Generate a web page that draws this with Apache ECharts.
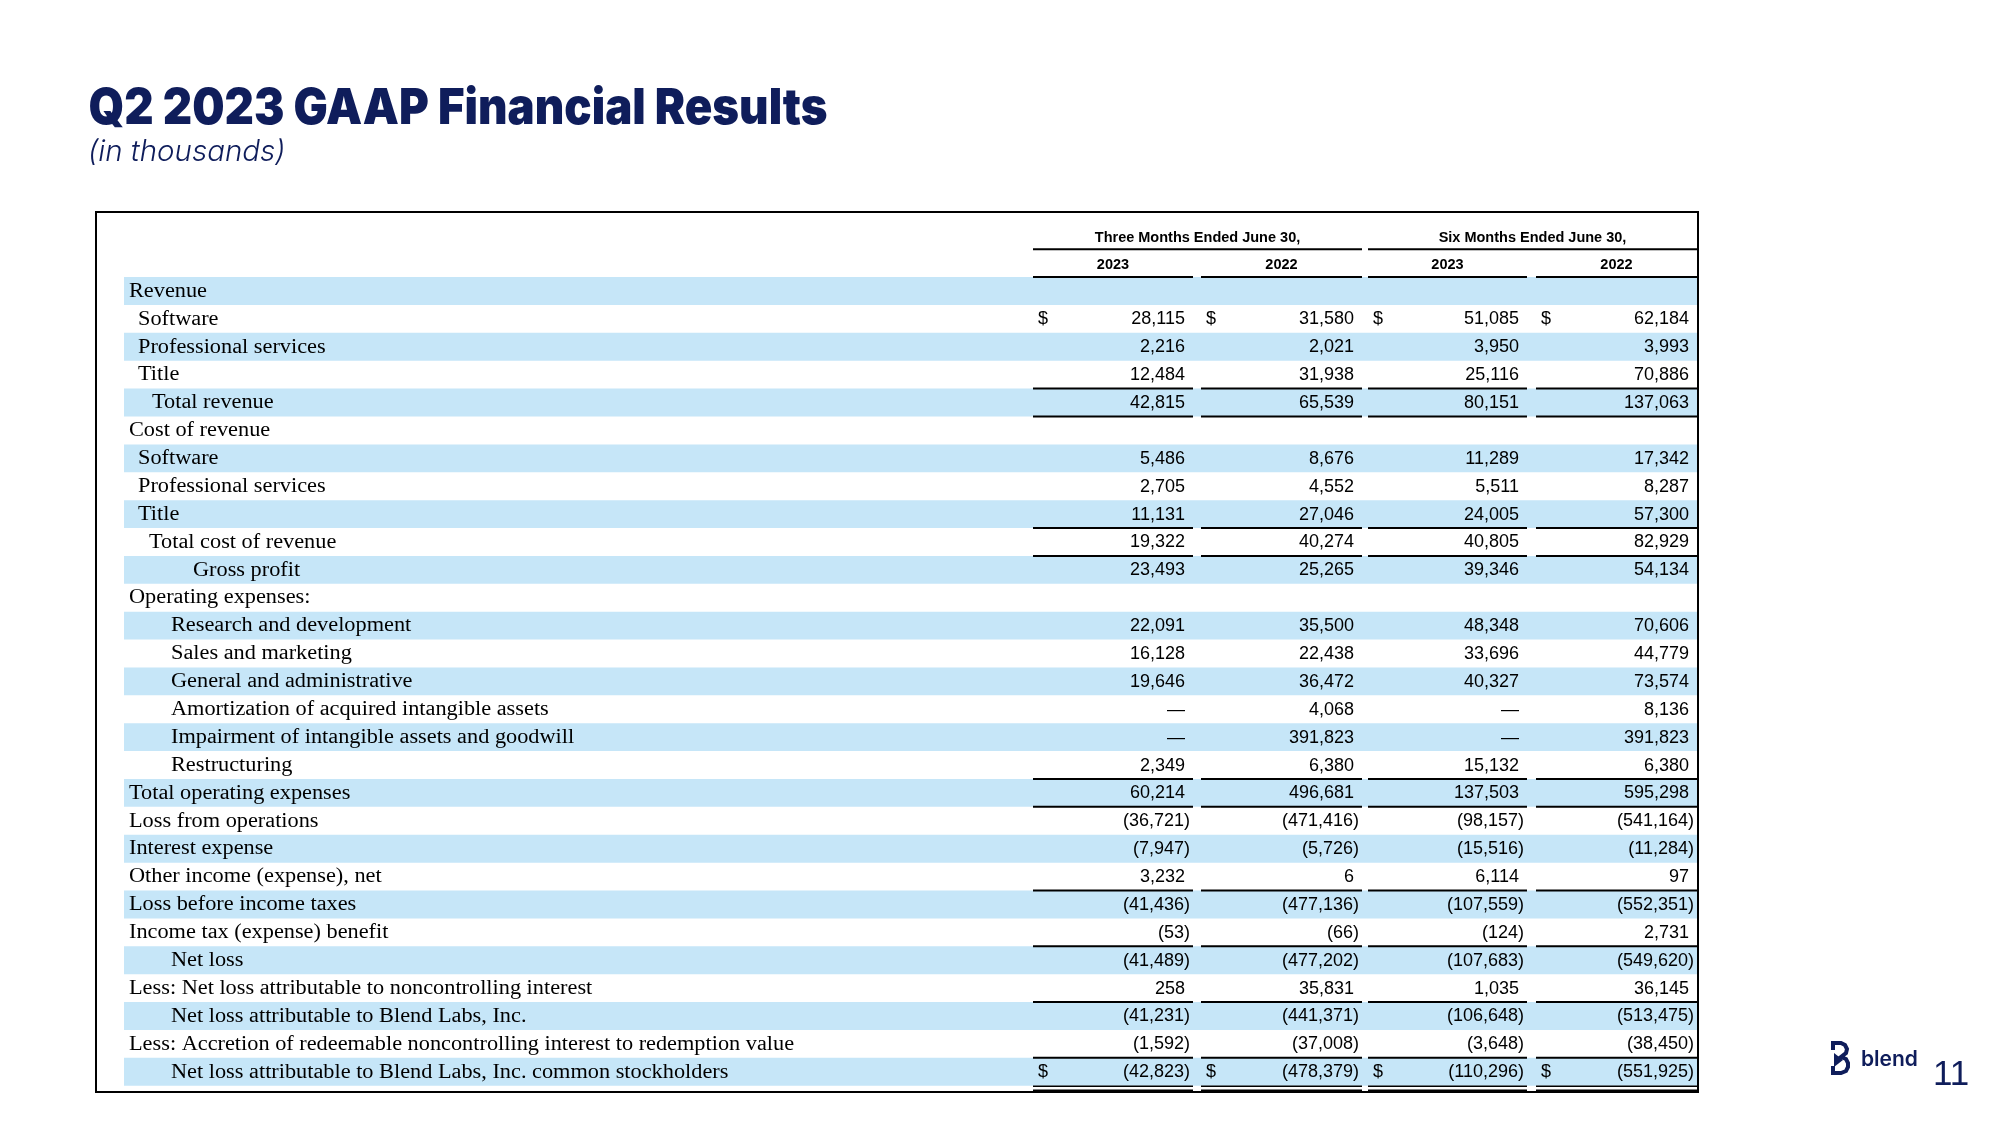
<!DOCTYPE html>
<html><head><meta charset="utf-8">
<script src="https://cdn.jsdelivr.net/npm/echarts@6/dist/echarts.min.js"></script>
<style>html,body{margin:0;padding:0;background:#fff}#c{width:2000px;height:1125px}</style>
</head><body><div id="c"></div>
<script>
// ---------------- DATA ----------------
const periodHeaders = ['Three Months Ended June 30,', 'Six Months Ended June 30,'];
const yearHeaders = ['2023', '2022', '2023', '2022'];
const rowLabels = [
  'Revenue', 'Software', 'Professional services', 'Title', 'Total revenue',
  'Cost of revenue', 'Software', 'Professional services', 'Title', 'Total cost of revenue',
  'Gross profit', 'Operating expenses:', 'Research and development', 'Sales and marketing',
  'General and administrative', 'Amortization of acquired intangible assets',
  'Impairment of intangible assets and goodwill', 'Restructuring', 'Total operating expenses',
  'Loss from operations', 'Interest expense', 'Other income (expense), net',
  'Loss before income taxes', 'Income tax (expense) benefit', 'Net loss',
  'Less: Net loss attributable to noncontrolling interest',
  'Net loss attributable to Blend Labs, Inc.',
  'Less: Accretion of redeemable noncontrolling interest to redemption value',
  'Net loss attributable to Blend Labs, Inc. common stockholders'
];
// null = section heading (no value), 0 = shown as dash
const threeMonths2023 = [null, 28115, 2216, 12484, 42815, null, 5486, 2705, 11131, 19322, 23493, null,
  22091, 16128, 19646, 0, 0, 2349, 60214, -36721, -7947, 3232, -41436, -53, -41489, 258, -41231, -1592, -42823];
const threeMonths2022 = [null, 31580, 2021, 31938, 65539, null, 8676, 4552, 27046, 40274, 25265, null,
  35500, 22438, 36472, 4068, 391823, 6380, 496681, -471416, -5726, 6, -477136, -66, -477202, 35831, -441371, -37008, -478379];
const sixMonths2023 = [null, 51085, 3950, 25116, 80151, null, 11289, 5511, 24005, 40805, 39346, null,
  48348, 33696, 40327, 0, 0, 15132, 137503, -98157, -15516, 6114, -107559, -124, -107683, 1035, -106648, -3648, -110296];
const sixMonths2022 = [null, 62184, 3993, 70886, 137063, null, 17342, 8287, 57300, 82929, 54134, null,
  70606, 44779, 73574, 8136, 391823, 6380, 595298, -541164, -11284, 97, -552351, 2731, -549620, 36145, -513475, -38450, -551925];
const dollarRows = [1, 28];
const underlineRows = [3, 4, 8, 9, 17, 18, 21, 23, 25, 27];
const doubleUnderlineRows = [28];

// ---------------- LAYOUT / STYLE ----------------
const columns = [threeMonths2023, threeMonths2022, sixMonths2023, sixMonths2022];
const segs = [[937, 1097], [1105, 1266], [1272, 1431], [1440, 1601]]; // x-axis units (px from table left)
const indentX = [33, 42, 42, 42, 56, 33, 42, 42, 42, 53, 97, 33, 75, 75, 75, 75, 75, 75,
  33, 33, 33, 33, 33, 33, 75, 33, 75, 33, 75];
const BAND_L = 28, BAND_R = 1601;
const BAND = '#c6e6f8';
const NAVY = '#0f1d5b';
const NUM_FONT = '18px "Liberation Sans", Arial, sans-serif';
const LBL_FONT = '20px "Liberation Serif", "Times New Roman", serif';
const HDR_FONT = 'bold 14.5px "Liberation Sans", Arial, sans-serif';

function fmt(v) {
  if (v === 0) return '\u2014';
  const s = Math.abs(v).toLocaleString('en-US');
  return v < 0 ? '(' + s + ')' : s;
}
function txt(x, y, text, font, align, extra) {
  return Object.assign({
    type: 'text', x: x, y: y,
    style: { text: text, x: 0, y: 0, font: font, fill: '#000',
      align: align, verticalAlign: 'middle' }
  }, extra || {});
}
function hline(x1, x2, y, w) {
  return { type: 'line', shape: { x1: x1, y1: y, x2: x2, y2: y }, style: { stroke: '#000', lineWidth: w } };
}

const rowData = rowLabels.map((l, i) => [0, i]);
const bandData = rowData.filter((d) => d[1] % 2 === 0);

const chart = echarts.init(document.getElementById('c'), null, { renderer: 'canvas' });
chart.setOption({
  animation: false,
  backgroundColor: '#fff',
  grid: { left: 96, right: 302, top: 212, bottom: 33, show: true, borderColor: '#000', borderWidth: 2,
    backgroundColor: 'transparent' },
  xAxis: { type: 'value', min: 0, max: 1602, show: false },
  yAxis: { type: 'value', min: -2.834, max: 28.726, inverse: true, show: false },
  series: [
    {
      type: 'custom', z: 1, data: bandData, encode: { x: 0, y: 1 },
      renderItem: function (params, api) {
        const i = api.value(1);
        const a = api.coord([BAND_L, i - 0.5]);
        const b = api.coord([BAND_R, i + 0.5]);
        return { type: 'rect', shape: { x: a[0], y: a[1], width: b[0] - a[0], height: b[1] - a[1] },
          style: { fill: BAND } };
      }
    },
    {
      type: 'custom', z: 3, data: [[0, -2], [0, -1]], encode: { x: 0, y: 1 },
      renderItem: function (params, api) {
        const r = api.value(1);
        const children = [];
        const yc = api.coord([0, r])[1];
        const yb = api.coord([0, r + 0.5])[1];
        if (r === -2) {
          periodHeaders.forEach((h, k) => {
            const xl = api.coord([segs[2 * k][0], r])[0];
            const xr = api.coord([segs[2 * k + 1][1], r])[0];
            children.push(txt((xl + xr) / 2, yc + 3, h, HDR_FONT, 'center'));
            children.push(hline(xl, xr, yb, 2));
          });
        } else {
          yearHeaders.forEach((h, k) => {
            const xl = api.coord([segs[k][0], r])[0];
            const xr = api.coord([segs[k][1], r])[0];
            children.push(txt((xl + xr) / 2, yc + 1.5, h, HDR_FONT, 'center'));
            children.push(hline(xl, xr, yb, 2));
          });
        }
        return { type: 'group', children: children };
      }
    },
    {
      type: 'custom', z: 3, data: rowData, encode: { x: 0, y: 1 },
      renderItem: function (params, api) {
        const i = api.value(1);
        const yc = api.coord([0, i])[1] + 0.5;
        const yb = api.coord([0, i + 0.5])[1];
        const children = [];
        const lx = api.coord([indentX[i], i])[0];
        children.push(txt(lx, yc, rowLabels[i], LBL_FONT, 'left', { scaleX: 1.115 }));
        columns.forEach((col, k) => {
          const v = col[i];
          const xl = api.coord([segs[k][0], i])[0];
          const xr = api.coord([segs[k][1], i])[0];
          if (v !== null && v !== undefined) {
            const rx = xr - 8 + (v < 0 ? 5 : 0);
            children.push(txt(rx, yc, fmt(v), NUM_FONT, 'right'));
          }
          if (dollarRows.indexOf(i) >= 0) children.push(txt(xl + 5, yc, '$', NUM_FONT, 'left'));
          if (underlineRows.indexOf(i) >= 0) children.push(hline(xl, xr, yb, 2));
          if (doubleUnderlineRows.indexOf(i) >= 0) {
            children.push(hline(xl, xr, yb + 0.5, 1.5));
            children.push(hline(xl, xr, yb + 4.5, 1.5));
          }
        });
        return { type: 'group', children: children };
      }
    }
  ],
  graphic: [
    { type: 'text', x: 88.5, y: 84, scaleX: 0.91,
      style: { text: 'Q2 2023 GAAP Financial Results', font: '900 50px Inter, sans-serif', fill: NAVY } },
    { type: 'text', x: 88, y: 137,
      style: { text: '(in thousands)', font: 'italic 300 29.5px Inter, sans-serif', fill: NAVY } },
    { type: 'group', x: 1831, y: 1041, children: [
      { type: 'polyline', shape: { points: [[2, 9], [2, 2], [10, 2], [14, 4], [16, 8], [15, 12], [10, 16],
        [15, 18], [17, 22], [17, 26], [15, 30], [10, 32], [2, 32], [2, 25]] },
        style: { fill: null, stroke: NAVY, lineWidth: 4 } },
      { type: 'polygon', shape: { points: [[3, 12], [12, 19], [3, 26]] }, style: { fill: NAVY } }
    ] },
    { type: 'text', x: 1861, y: 1049, style: { text: 'blend', font: '600 21px Inter, sans-serif', fill: NAVY } },
    { type: 'text', x: 1933, y: 1058, style: { text: '11', font: '35px "Liberation Sans", Arial, sans-serif', fill: NAVY } }
  ]
});
</script></body></html>
